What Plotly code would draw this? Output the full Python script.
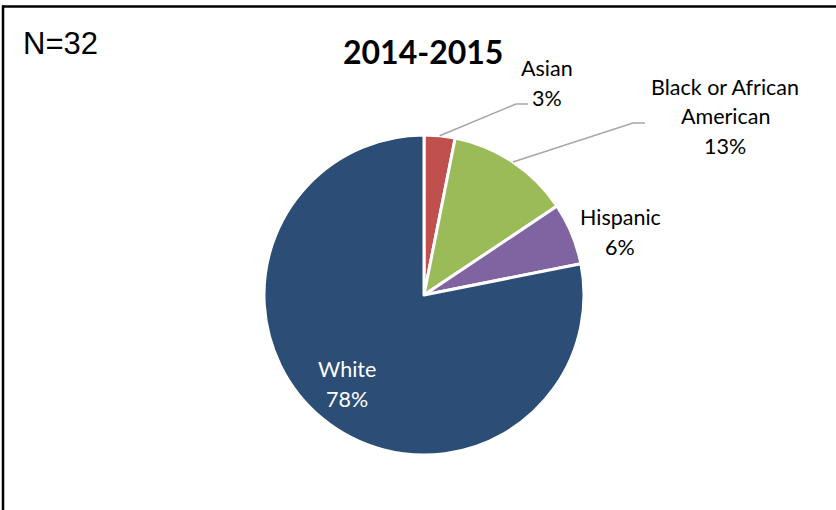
import math
import plotly.graph_objects as go

# Enrollment by race/ethnicity, 2014-2015 (N=32)
categories = ["Asian", "Black or African American", "Hispanic", "White"]
counts = [1, 4, 2, 25]
label_lines = [["Asian"], ["Black or African", "American"], ["Hispanic"], ["White"]]
colors = ["#C0504D", "#9BBB59", "#8064A2", "#2C4D75"]
title_text = "2014-2015"
n_text = "N=32"

W, H = 836, 510
CX, CY, R = 424, 295, 160          # pie centre / radius in pixels

# label anchor (centre of first line, pixels), text colour, leader-line elbow
label_style = {
    "Asian": dict(x=547, y=68, color="black", elbow=(516, 104), tail=(528, 104)),
    "Black or African American": dict(x=725, y=87, color="black", elbow=(633, 123), tail=(645, 123)),
    "Hispanic": dict(x=620, y=217, color="black", elbow=None, tail=None),
    "White": dict(x=347, y=369, color="white", elbow=None, tail=None),
}
LINE_GAP = 29.5
FONT = "Lato, 'Open Sans', sans-serif"


def px(x):
    return x / W


def py(y):
    return 1 - y / H


def pct_label(p):
    # round half up, as spreadsheet percentages do
    return f"{int(math.floor(p + 0.5))}%"


total = sum(counts)
pcts = [c / total * 100 for c in counts]

fig = go.Figure(
    go.Pie(
        labels=categories,
        values=counts,
        sort=False,
        direction="clockwise",
        rotation=0,
        marker=dict(colors=colors, line=dict(color="white", width=3)),
        textinfo="none",
        hoverinfo="skip",
        showlegend=False,
        domain=dict(x=[px(CX - R), px(CX + R)], y=[py(CY + R), py(CY - R)]),
    )
)

annotations = []
shapes = []

cum = 0.0
for cat, lines, pct in zip(categories, label_lines, pcts):
    st = label_style[cat]
    mid = (cum + pct / 2) / 100 * 2 * math.pi
    cum += pct
    all_lines = lines + [pct_label(pct)]
    for i, line in enumerate(all_lines):
        annotations.append(dict(
            x=px(st["x"]), y=py(st["y"] + i * LINE_GAP), xref="paper", yref="paper",
            text=line, showarrow=False, xanchor="center", yanchor="middle",
            font=dict(family=FONT, size=21.5, color=st["color"]),
        ))
    if st["elbow"] is not None:
        sx = CX + R * math.sin(mid)
        sy = CY - R * math.cos(mid)
        ex, ey = st["elbow"]
        tx, ty = st["tail"]
        shapes.append(dict(
            type="path", xref="paper", yref="paper",
            path=f"M {px(sx)} {py(sy)} L {px(ex)} {py(ey)} L {px(tx)} {py(ty)}",
            line=dict(color="#A6A6A6", width=1.5),
        ))

# title and sample size
annotations.append(dict(
    x=px(423), y=py(52), xref="paper", yref="paper", text=f"<b>{title_text}</b>",
    showarrow=False, xanchor="center", yanchor="middle",
    font=dict(family=FONT, size=32, color="black"),
))
annotations.append(dict(
    x=px(21), y=py(43), xref="paper", yref="paper", text=n_text,
    showarrow=False, xanchor="left", yanchor="middle",
    font=dict(family="Liberation Sans, Arial, sans-serif", size=31, color="black"),
))

# frame lines on the top and left edges
shapes.append(dict(type="line", xref="paper", yref="paper",
                   x0=px(2), x1=1, y0=py(6.5), y1=py(6.5),
                   line=dict(color="black", width=2.5)))
shapes.append(dict(type="line", xref="paper", yref="paper",
                   x0=px(3), x1=px(3), y0=py(5.5), y1=0,
                   line=dict(color="black", width=2.5)))

fig.update_layout(
    width=W, height=H,
    margin=dict(l=0, r=0, t=0, b=0),
    paper_bgcolor="white", plot_bgcolor="white",
    annotations=annotations, shapes=shapes,
)

fig.write_html("out.html", config={"displayModeBar": False})
